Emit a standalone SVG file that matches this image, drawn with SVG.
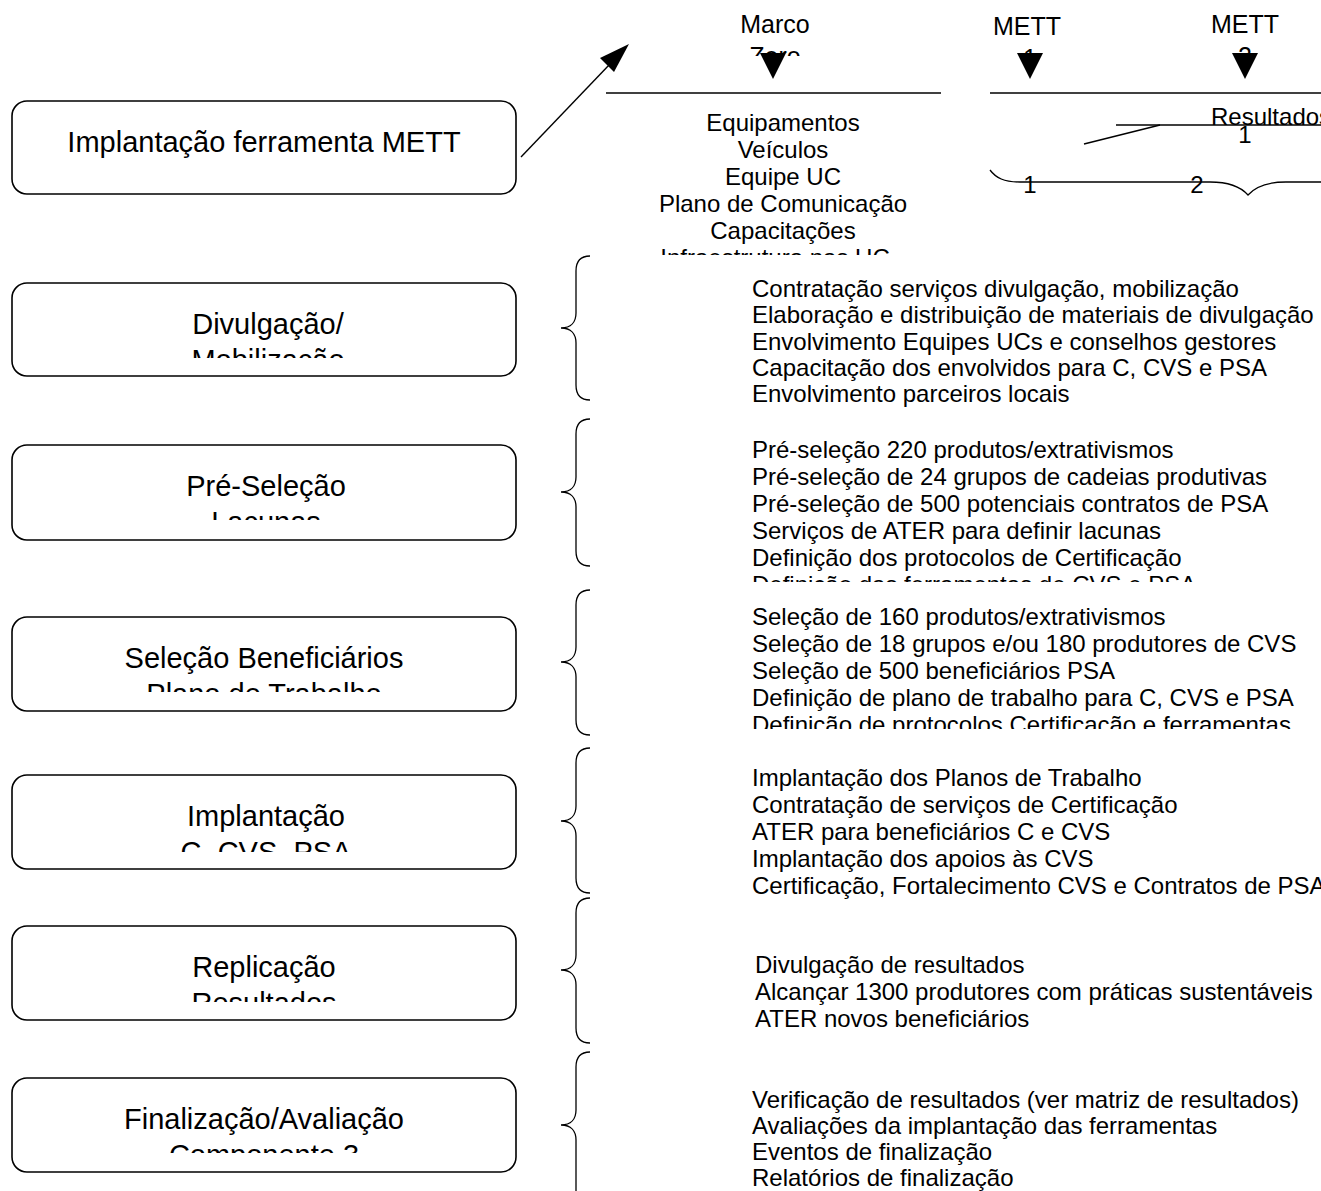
<svg xmlns="http://www.w3.org/2000/svg" width="1321" height="1191" viewBox="0 0 1321 1191">
<style>
text{font-family:"Liberation Sans",Arial,sans-serif;fill:#000}
.box{fill:#fff;stroke:#000;stroke-width:1.6}
.bt{font-size:29px;text-anchor:middle}
.lt{font-size:24px}
.lb{font-size:25px;text-anchor:middle}
.ct{font-size:24px;text-anchor:middle}
.ln{stroke:#000;stroke-width:1.4;fill:none}
.br{stroke:#000;stroke-width:1.3;fill:none}
</style>
<defs>
<marker id="ah" viewBox="0 0 10 10" refX="9" refY="5" markerWidth="10" markerHeight="8" markerUnits="userSpaceOnUse" orient="auto" style="overflow:visible">
<path d="M0,0 L10,5 L0,10 z" fill="#000" transform="scale(3.2 2.6) translate(-6 -3)"/>
</marker>
<clipPath id="c1"><rect x="0" y="283" width="540" height="75"/></clipPath>
<clipPath id="c2"><rect x="0" y="445" width="540" height="75"/></clipPath>
<clipPath id="c3"><rect x="0" y="617" width="540" height="75"/></clipPath>
<clipPath id="c4"><rect x="0" y="775" width="540" height="77"/></clipPath>
<clipPath id="c5"><rect x="0" y="926" width="540" height="76"/></clipPath>
<clipPath id="c6"><rect x="0" y="1078" width="540" height="75"/></clipPath>
<clipPath id="ctop"><rect x="600" y="0" width="721" height="56"/></clipPath>
<clipPath id="cmid"><rect x="600" y="100" width="400" height="155"/></clipPath>
<clipPath id="cb2"><rect x="700" y="420" width="621" height="162"/></clipPath>
<clipPath id="cb3"><rect x="700" y="590" width="621" height="139"/></clipPath>
</defs>

<g id="connectors">
<line class="ln" x1="521" y1="157" x2="610" y2="64"/>
<polygon points="629,44 600,58 614,72" fill="#000"/>
<line class="ln" x1="606" y1="93" x2="941" y2="93"/>
<line class="ln" x1="990" y1="93" x2="1321" y2="93"/>
<polygon points="760,53 786,53 773,79" fill="#000"/>
<polygon points="1017,53 1043,53 1030,79" fill="#000"/>
<polygon points="1232,53 1258,53 1245,79" fill="#000"/>
<line class="ln" x1="1116" y1="125" x2="1321" y2="125"/>
<line class="ln" x1="1084" y1="144" x2="1160" y2="125"/>
<path class="br" d="M990,170 C996,178 1004,182 1020,182 L1210,182 C1228,182 1240,186 1248,195 C1256,186 1268,182 1286,182 L1321,182"/>
<path class="br" d="M590,256 C580,256 576,261 576,271 L576,313 C576,322 571,328 561,328 C571,328 576,334 576,343 L576,385 C576,395 580,400 590,400"/>
<path class="br" d="M590,419 C580,419 576,424 576,434 L576,477 C576,486 571,492 561,492 C571,492 576,498 576,507 L576,551 C576,561 580,566 590,566"/>
<path class="br" d="M590,590 C580,590 576,595 576,605 L576,647 C576,656 571,662 561,662 C571,662 576,668 576,677 L576,720 C576,730 580,735 590,735"/>
<path class="br" d="M590,748 C580,748 576,753 576,763 L576,806 C576,815 571,821 561,821 C571,821 576,827 576,836 L576,878 C576,888 580,893 590,893"/>
<path class="br" d="M590,898 C580,898 576,903 576,913 L576,955 C576,964 571,970 561,970 C571,970 576,976 576,985 L576,1028 C576,1038 580,1043 590,1043"/>
<path class="br" d="M590,1052 C580,1052 576,1057 576,1067 L576,1110 C576,1119 571,1125 561,1125 C571,1125 576,1131 576,1140 L576,1191"/>
</g>

<g id="n-mett">
<rect class="box" x="12" y="101" width="504" height="93" rx="15"/>
<text class="bt" x="264" y="152">Implantação ferramenta METT</text>
</g>
<g id="n-divulgacao">
<rect class="box" x="12" y="283" width="504" height="93" rx="15"/>
<g clip-path="url(#c1)"><text class="bt" x="268" y="334">Divulgação/</text><text class="bt" x="268" y="370">Mobilização</text></g>
</g>
<g id="n-preselecao">
<rect class="box" x="12" y="445" width="504" height="95" rx="15"/>
<g clip-path="url(#c2)"><text class="bt" x="266" y="496">Pré-Seleção</text><text class="bt" x="266" y="532">Lacunas</text></g>
</g>
<g id="n-selecao">
<rect class="box" x="12" y="617" width="504" height="94" rx="15"/>
<g clip-path="url(#c3)"><text class="bt" x="264" y="668">Seleção Beneficiários</text><text class="bt" x="264" y="704">Plano de Trabalho</text></g>
</g>
<g id="n-implantacao">
<rect class="box" x="12" y="775" width="504" height="94" rx="15"/>
<g clip-path="url(#c4)"><text class="bt" x="266" y="826">Implantação</text><text class="bt" x="266" y="862">C, CVS, PSA</text></g>
</g>
<g id="n-replicacao">
<rect class="box" x="12" y="926" width="504" height="94" rx="15"/>
<g clip-path="url(#c5)"><text class="bt" x="264" y="977">Replicação</text><text class="bt" x="264" y="1013">Resultados</text></g>
</g>
<g id="n-finalizacao">
<rect class="box" x="12" y="1078" width="504" height="94" rx="15"/>
<g clip-path="url(#c6)"><text class="bt" x="264" y="1129">Finalização/Avaliação</text><text class="bt" x="264" y="1165">Componente 3</text></g>
</g>

<g id="timeline-labels">
<g clip-path="url(#ctop)">
<text class="lb" x="775" y="33">Marco</text><text class="lb" x="775" y="65">Zero</text>
<text class="lb" x="1027" y="35">METT</text><text class="lb" x="1030" y="67">1</text>
<text class="lb" x="1245" y="33">METT</text><text class="lb" x="1245" y="65">2</text>
</g>
<g clip-path="url(#cmid)">
<text class="ct" x="783" y="131">Equipamentos</text>
<text class="ct" x="783" y="158">Veículos</text>
<text class="ct" x="783" y="185">Equipe UC</text>
<text class="ct" x="783" y="212">Plano de Comunicação</text>
<text class="ct" x="783" y="239">Capacitações</text>
<text class="ct" x="775" y="266">Infraestrutura nas UC</text>
</g>
<text class="lt" x="1211" y="125">Resultados</text>
<text class="ct" x="1245" y="143">1</text>
<text class="ct" x="1030" y="193">1</text>
<text class="ct" x="1197" y="193">2</text>
</g>

<g id="activities">
<text class="lt" x="752" y="297">Contratação serviços divulgação, mobilização</text>
<text class="lt" x="752" y="323">Elaboração e distribuição de materiais de divulgação</text>
<text class="lt" x="752" y="350">Envolvimento Equipes UCs e conselhos gestores</text>
<text class="lt" x="752" y="376">Capacitação dos envolvidos para C, CVS e PSA</text>
<text class="lt" x="752" y="402">Envolvimento parceiros locais</text>
<g clip-path="url(#cb2)">
<text class="lt" x="752" y="458">Pré-seleção 220 produtos/extrativismos</text>
<text class="lt" x="752" y="485">Pré-seleção de 24 grupos de cadeias produtivas</text>
<text class="lt" x="752" y="512">Pré-seleção de 500 potenciais contratos de PSA</text>
<text class="lt" x="752" y="539">Serviços de ATER para definir lacunas</text>
<text class="lt" x="752" y="566">Definição dos protocolos de Certificação</text>
<text class="lt" x="752" y="593">Definição das ferramentas de CVS e PSA</text>
</g>
<g clip-path="url(#cb3)">
<text class="lt" x="752" y="625">Seleção de 160 produtos/extrativismos</text>
<text class="lt" x="752" y="652">Seleção de 18 grupos e/ou 180 produtores de CVS</text>
<text class="lt" x="752" y="679">Seleção de 500 beneficiários PSA</text>
<text class="lt" x="752" y="706">Definição de plano de trabalho para C, CVS e PSA</text>
<text class="lt" x="752" y="733">Definição de protocolos Certificação e ferramentas</text>
</g>
<text class="lt" x="752" y="786">Implantação dos Planos de Trabalho</text>
<text class="lt" x="752" y="813">Contratação de serviços de Certificação</text>
<text class="lt" x="752" y="840">ATER para beneficiários C e CVS</text>
<text class="lt" x="752" y="867">Implantação dos apoios às CVS</text>
<text class="lt" x="752" y="894">Certificação, Fortalecimento CVS e Contratos de PSA</text>
<text class="lt" x="755" y="973">Divulgação de resultados</text>
<text class="lt" x="755" y="1000">Alcançar 1300 produtores com práticas sustentáveis</text>
<text class="lt" x="755" y="1027">ATER novos beneficiários</text>
<text class="lt" x="752" y="1108">Verificação de resultados (ver matriz de resultados)</text>
<text class="lt" x="752" y="1134">Avaliações da implantação das ferramentas</text>
<text class="lt" x="752" y="1160">Eventos de finalização</text>
<text class="lt" x="752" y="1186">Relatórios de finalização</text>
</g>
</svg>
